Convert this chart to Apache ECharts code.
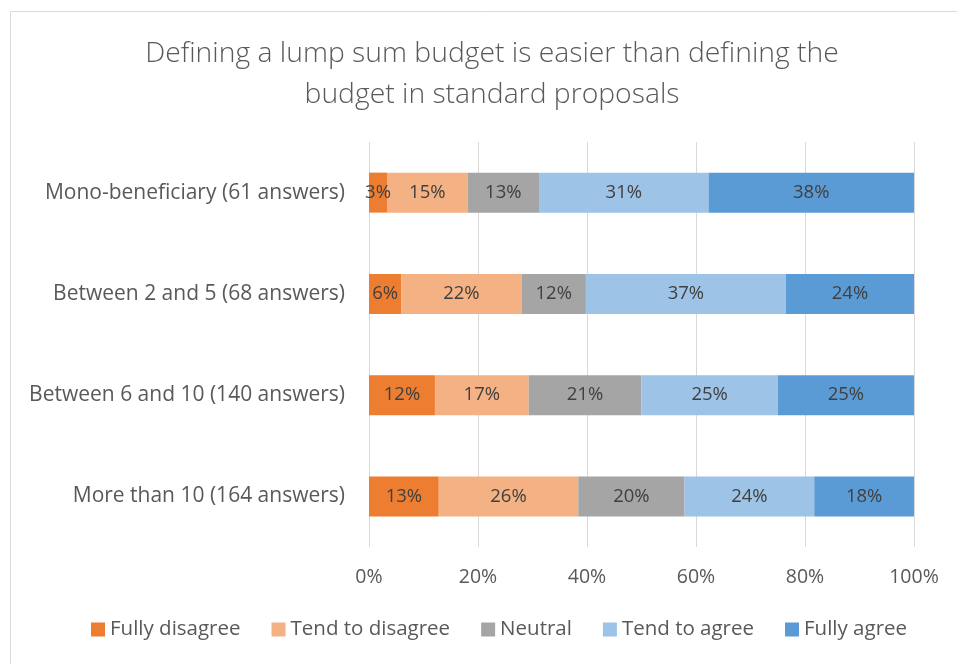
<!DOCTYPE html>
<html>
<head>
<meta charset="utf-8">
<script src="https://cdn.jsdelivr.net/npm/echarts@6/dist/echarts.min.js"></script>
<style>
  html, body { margin: 0; padding: 0; background: #fff; }
  #chart { width: 957px; height: 664px; }
</style>
</head>
<body>
<div id="chart"></div>
<script>
// Respondent groups, listed top to bottom
const categories = [
  'Mono-beneficiary (61 answers)',
  'Between 2 and 5 (68 answers)',
  'Between 6 and 10 (140 answers)',
  'More than 10 (164 answers)'
];

// Share of answers per group, in percent
const fullyDisagree  = [3.3, 5.9, 12.1, 12.8];
const tendDisagree   = [14.8, 22.1, 17.2, 25.6];
const neutral        = [13.1, 11.8, 20.7, 19.5];
const tendAgree      = [31.1, 36.7, 25.0, 23.8];
const fullyAgree     = [37.7, 23.5, 25.0, 18.3];

const seriesNames = ['Fully disagree', 'Tend to disagree', 'Neutral', 'Tend to agree', 'Fully agree'];
const seriesColors = ['#ED7D31', '#F4B183', '#A5A5A5', '#9DC3E6', '#5B9BD5'];
const seriesValues = [fullyDisagree, tendDisagree, neutral, tendAgree, fullyAgree];

const xTicks = [0, 20, 40, 60, 80, 100];

const FONT = '"Open Sans", "Noto Sans", sans-serif';
const TEXT = '#595959';

const chart = echarts.init(document.getElementById('chart'), null, { renderer: 'canvas' });

chart.setOption({
  animation: false,
  backgroundColor: '#ffffff',
  textStyle: { fontFamily: FONT },
  graphic: [
    {
      type: 'rect',
      shape: { x: 10.5, y: 11.5, width: 980, height: 700 },
      style: { fill: 'none', stroke: '#D9D9D9', lineWidth: 1 },
      silent: true
    },
    {
      type: 'text',
      x: 492, y: 33,
      style: {
        text: 'Defining a lump sum budget is easier than defining the\nbudget in standard proposals',
        fill: TEXT,
        font: '300 28.3px ' + FONT,
        textAlign: 'center',
        lineHeight: 41
      }
    }
  ],
  legend: {
    bottom: 19,
    left: 86,
    itemWidth: 14,
    itemHeight: 14,
    itemGap: 31,
    icon: 'rect',
    textStyle: { color: TEXT, fontSize: 20.5, fontFamily: FONT },
    data: seriesNames
  },
  grid: { left: 369, right: 43, top: 142, bottom: 117, containLabel: false },
  xAxis: {
    type: 'value',
    min: xTicks[0],
    max: xTicks[xTicks.length - 1],
    interval: 20,
    axisLine: { show: false },
    axisTick: { show: false },
    axisLabel: {
      color: TEXT, fontSize: 19.5, margin: 20,
      formatter: v => v + '%'
    },
    splitLine: { show: true, lineStyle: { color: '#D9D9D9', width: 1 } }
  },
  yAxis: {
    type: 'category',
    inverse: true,
    data: categories,
    axisLine: { show: false },
    axisTick: { show: false },
    axisLabel: { color: TEXT, fontSize: 21, margin: 24 }
  },
  series: seriesNames.map((name, i) => ({
    name,
    type: 'bar',
    stack: 'total',
    barWidth: 40,
    itemStyle: { color: seriesColors[i] },
    label: {
      show: true,
      position: 'inside',
      color: '#404040',
      fontSize: 18.5,
      fontFamily: FONT,
      formatter: p => Math.round(p.value) + '%'
    },
    data: seriesValues[i]
  }))
});
</script>
</body>
</html>
